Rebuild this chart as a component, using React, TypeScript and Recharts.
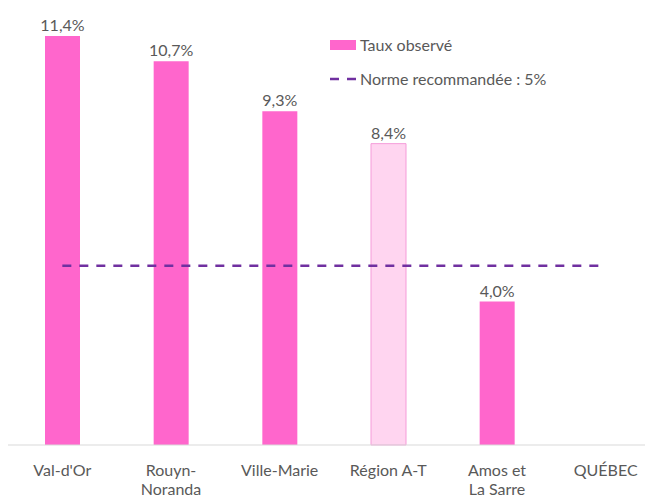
import { ComposedChart, Bar, Line, XAxis, YAxis, Cell, LabelList } from "recharts";

const categories = ["Val-d'Or", "Rouyn-\nNoranda", "Ville-Marie", "Région A-T", "Amos et\nLa Sarre", "QUÉBEC"];
const taux = [11.4, 10.7, 9.3, 8.4, 4.0, null];
const norme = [5, 5, 5, 5, 5, 5];

const data = categories.map((name, i) => ({ name, taux: taux[i], norme: norme[i] }));

const FONT = "Lato, 'Open Sans', sans-serif";
const TEXT = "#595959";

function CatTick({ x, y, payload }: any) {
  const lines = String(payload.value).split("\n");
  return (
    <text x={x} y={y} textAnchor="middle" fill={TEXT} fontSize={16} fontFamily={FONT}>
      {lines.map((l, i) => (
        <tspan key={i} x={x} dy={i === 0 ? 23 : 19}>
          {l}
        </tspan>
      ))}
    </text>
  );
}

function Legende() {
  return (
    <div style={{ fontFamily: FONT, fontSize: 16, color: TEXT, lineHeight: "34px" }}>
      <div style={{ display: "flex", alignItems: "center" }}>
        <span style={{ display: "inline-block", width: 26, height: 10, background: "#ff66cc", marginRight: 4 }} />
        Taux observé
      </div>
      <div style={{ display: "flex", alignItems: "center" }}>
        <svg width={26} height={10} style={{ marginRight: 4 }}>
          <line x1={0} y1={5} x2={26} y2={5} stroke="#7030a0" strokeWidth={2.5} strokeDasharray="9 8" />
        </svg>
        Norme recommandée : 5%
      </div>
    </div>
  );
}

export default function App() {
  return (
    <div style={{ position: "relative", width: 645, height: 490, overflow: "hidden" }}>
      <ComposedChart width={652} height={490} data={data} margin={{ top: 6.5, right: 0, left: 0, bottom: 0 }}>
        <XAxis
          dataKey="name"
          axisLine={{ stroke: "#d9d9d9" }}
          tickLine={false}
          interval={0}
          height={53}
          tick={<CatTick />}
        />
        <YAxis hide domain={[0, 12]} />
        <Bar dataKey="taux" barSize={35} isAnimationActive={false}>
          {data.map((d, i) => (
            <Cell
              key={i}
              fill={d.name === "Région A-T" ? "#ffd5f0" : "#ff66cc"}
              stroke={d.name === "Région A-T" ? "#f59bd9" : "none"}
            />
          ))}
          <LabelList
            dataKey="taux"
            position="top"
            fill={TEXT}
            fontSize={16}
            fontFamily={FONT}
            formatter={(v: any) => (v == null ? "" : Number(v).toFixed(1).replace(".", ",") + "%")}
          />
        </Bar>
        <Line
          dataKey="norme"
          stroke="#7030a0"
          strokeWidth={2.5}
          strokeDasharray="9 8"
          dot={false}
          activeDot={false}
          isAnimationActive={false}
        />
      </ComposedChart>
      <div style={{ position: "absolute", left: 322, top: 20 }}>
        <Legende />
      </div>
    </div>
  );
}
